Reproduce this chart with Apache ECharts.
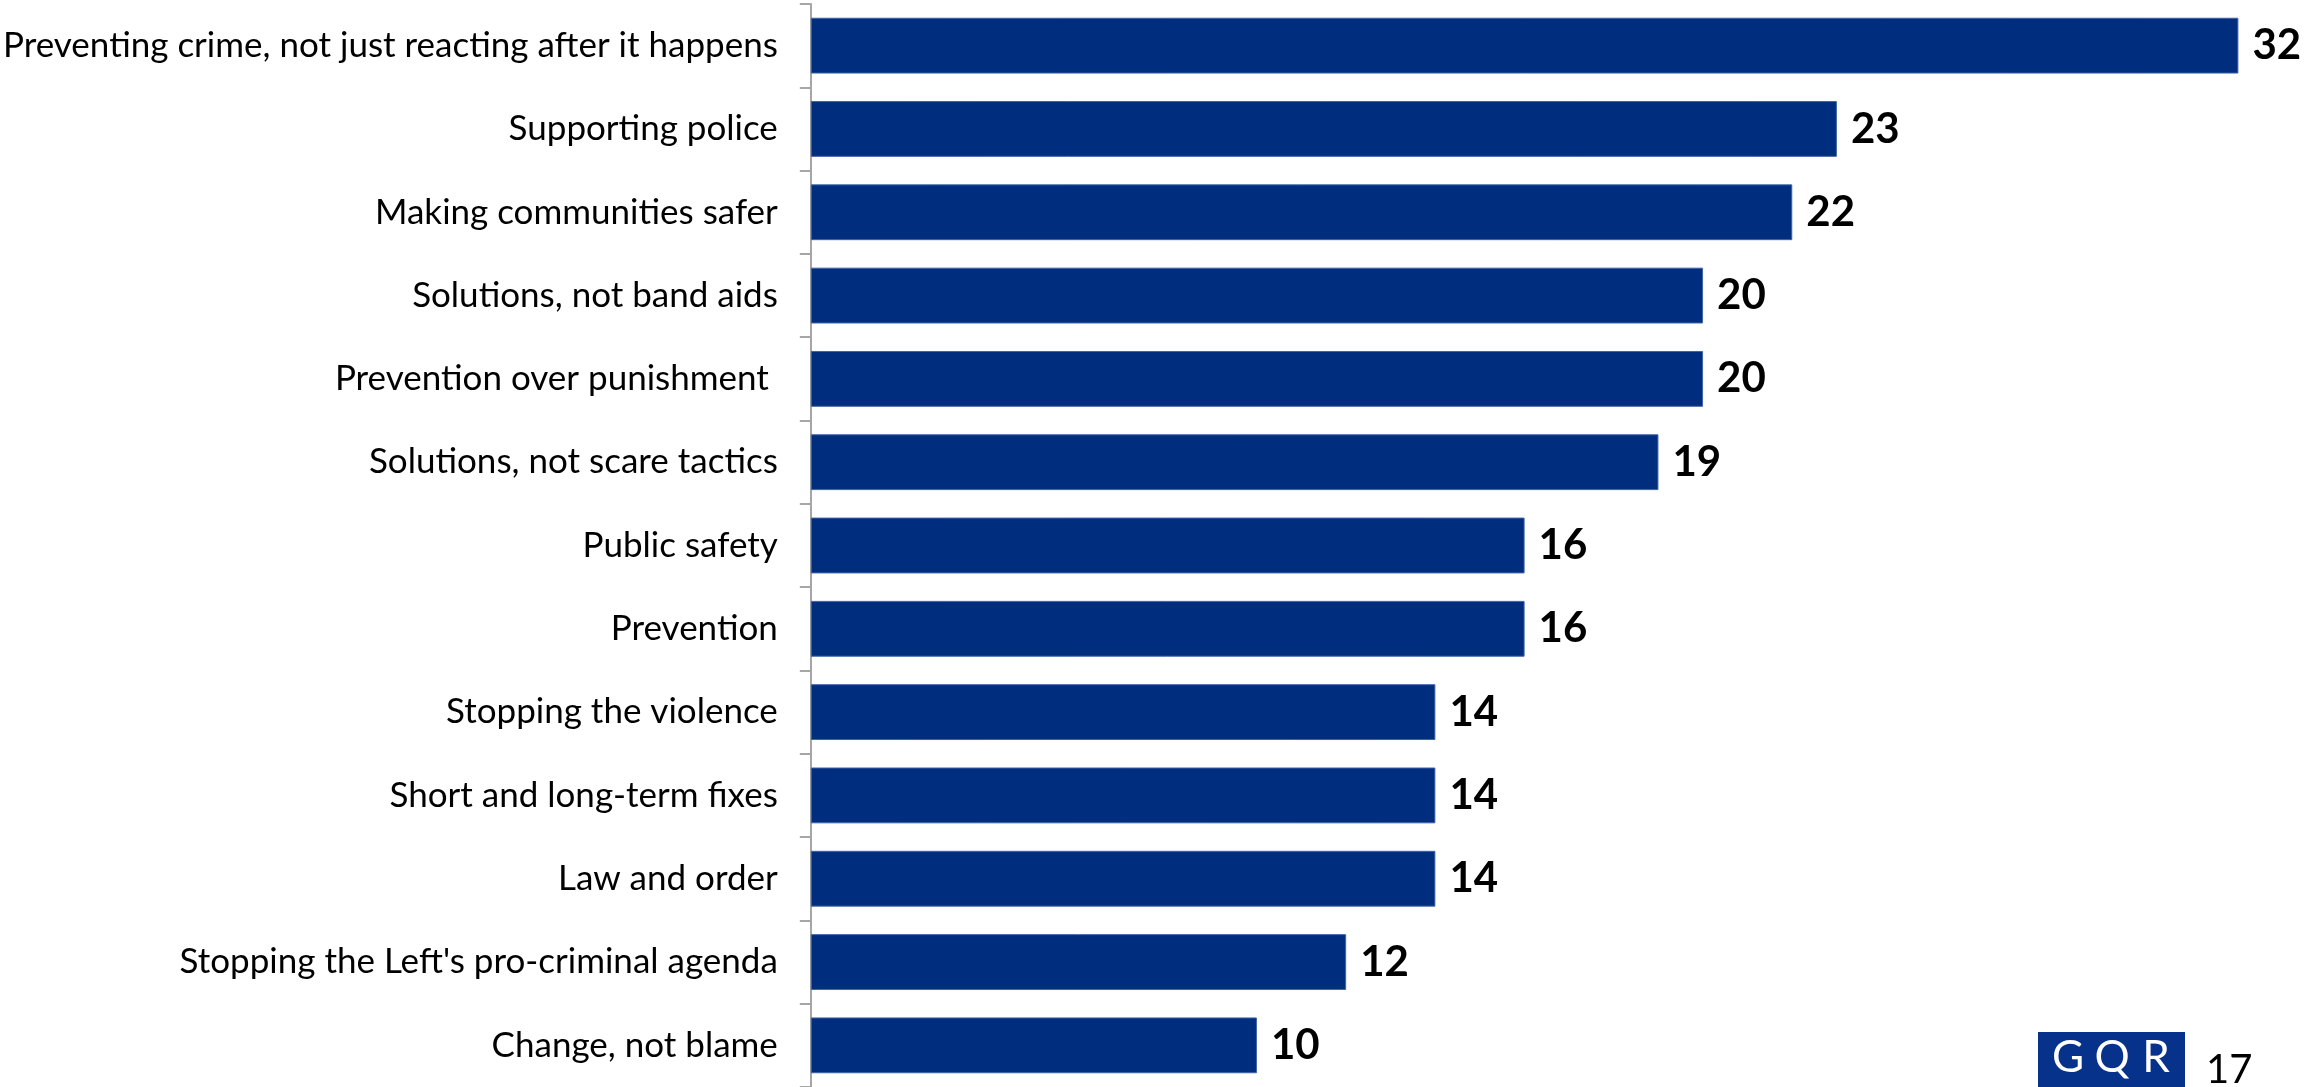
<!DOCTYPE html>
<html>
<head>
<meta charset="utf-8">
<script src="https://cdn.jsdelivr.net/npm/echarts@6/dist/echarts.min.js"></script>
<style>
html,body{margin:0;padding:0;background:#fff;}
#chart{width:2305px;height:1087px;}
</style>
</head>
<body>
<div id="chart"></div>
<script>
const categories = [
  "Preventing crime, not just reacting after it happens",
  "Supporting police",
  "Making communities safer",
  "Solutions, not band aids",
  "Prevention over punishment ",
  "Solutions, not scare tactics",
  "Public safety",
  "Prevention",
  "Stopping the violence",
  "Short and long-term fixes",
  "Law and order",
  "Stopping the Left's pro-criminal agenda",
  "Change, not blame"
];
const values = [32, 23, 22, 20, 20, 19, 16, 16, 14, 14, 14, 12, 10];
const pageNumber = "17";
const logoLetters = ["G", "Q", "R"];

const chart = echarts.init(document.getElementById('chart'), null, {renderer: 'canvas'});
const axisGray = '#A6A6A6';
const barBlue = '#002D7D';

chart.setOption({
  animation: false,
  backgroundColor: '#ffffff',
  grid: {left: 808, top: 4, height: 1083, width: 1475, containLabel: false},
  xAxis: {
    type: 'value', min: 0, max: 33, show: false
  },
  yAxis: {
    type: 'category',
    inverse: true,
    data: categories,
    axisLine: {show: true, lineStyle: {color: axisGray, width: 2}},
    axisTick: {show: true, length: 11, lineStyle: {color: axisGray, width: 2}},
    axisLabel: {fontFamily: 'Lato', fontSize: 35, color: '#000', margin: 33}
  },
  series: [{
    type: 'bar',
    data: values,
    barCategoryGap: '33%',
    itemStyle: {color: barBlue, borderColor: '#3F63A8', borderWidth: 1},
    label: {
      show: true, position: 'right', distance: 14,
      fontFamily: 'Lato', fontSize: 42, fontWeight: 'bold', color: '#000'
    }
  }],
  graphic: [
    {type: 'rect', left: 2038, top: 1032, shape: {width: 147, height: 60}, style: {fill: '#07328C'}},
    {type: 'text', x: 2068, y: 1080, style: {text: logoLetters[0], fill: '#fff', font: '44px Lato', textAlign: 'center', textVerticalAlign: 'bottom'}},
    {type: 'text', x: 2112, y: 1080, style: {text: logoLetters[1], fill: '#fff', font: '44px Lato', textAlign: 'center', textVerticalAlign: 'bottom'}},
    {type: 'text', x: 2156, y: 1080, style: {text: logoLetters[2], fill: '#fff', font: '44px Lato', textAlign: 'center', textVerticalAlign: 'bottom'}},
    {type: 'text', x: 2206, y: 1090, style: {text: pageNumber, fill: '#000', font: '40px Lato', textAlign: 'left', textVerticalAlign: 'bottom'}}
  ]
});
</script>
</body>
</html>
